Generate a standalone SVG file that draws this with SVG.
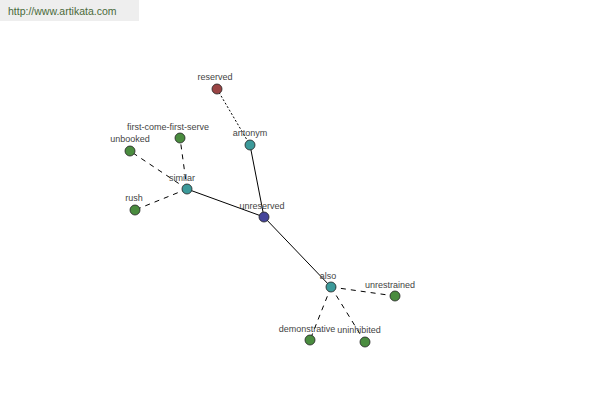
<svg xmlns="http://www.w3.org/2000/svg" width="600" height="400" viewBox="0 0 600 400">
<style>
.bg{fill:#ffffff}
.hdr{fill:#eeeeee}
.hdrt{font-family:"Liberation Sans",Arial,sans-serif;font-size:10.5px;fill:#4a6a3a}
.lbl{font-family:"Liberation Sans",Arial,sans-serif;font-size:9px;fill:#444444;text-anchor:middle}
.n{stroke:#222;stroke-width:0.8}
.g{fill:#4a8c3f}
.t{fill:#3c9a9a}
.b{fill:#44449a}
.r{fill:#9a4444}
.solid{stroke:#000;stroke-width:1;fill:none}
.dash{stroke:#000;stroke-width:1;fill:none;stroke-dasharray:5,5}
.dot{stroke:#000;stroke-width:1;fill:none;stroke-dasharray:2,2}
</style>
<rect class="bg" x="0" y="0" width="600" height="400"/>
<rect class="hdr" x="0" y="0" width="139" height="21"/>
<text class="hdrt" x="8" y="15">http://www.artikata.com</text>
<g id="connectors">
<line class="dot" x1="217" y1="89" x2="250" y2="145"/>
<line class="solid" x1="250" y1="145" x2="264" y2="217"/>
<line class="solid" x1="187" y1="189" x2="264" y2="217"/>
<line class="solid" x1="264" y1="217" x2="331" y2="287"/>
<line class="dash" x1="187" y1="189" x2="130" y2="151"/>
<line class="dash" x1="187" y1="189" x2="180" y2="138"/>
<line class="dash" x1="187" y1="189" x2="135" y2="210"/>
<line class="dash" x1="331" y1="287" x2="395" y2="296"/>
<line class="dash" x1="331" y1="287" x2="310" y2="340"/>
<line class="dash" x1="331" y1="287" x2="365" y2="342"/>
</g>
<g id="reserved"><circle class="n r" cx="217" cy="89" r="5"/><text class="lbl" x="215" y="80">reserved</text></g>
<g id="anonym"><circle class="n t" cx="250" cy="145" r="5"/><text class="lbl" x="250" y="136">antonym</text></g>
<g id="first-come-first-serve"><circle class="n g" cx="180" cy="138" r="5"/><text class="lbl" x="168" y="130">first-come-first-serve</text></g>
<g id="unbooked"><circle class="n g" cx="130" cy="151" r="5"/><text class="lbl" x="130" y="142">unbooked</text></g>
<g id="similar"><circle class="n t" cx="187" cy="189" r="5"/><text class="lbl" x="182" y="181">similar</text></g>
<g id="rush"><circle class="n g" cx="135" cy="210" r="5"/><text class="lbl" x="134" y="201">rush</text></g>
<g id="unreserved"><circle class="n b" cx="264" cy="217" r="5"/><text class="lbl" x="262" y="209">unreserved</text></g>
<g id="also"><circle class="n t" cx="331" cy="287" r="5"/><text class="lbl" x="328" y="279">also</text></g>
<g id="unrestrained"><circle class="n g" cx="395" cy="296" r="5"/><text class="lbl" x="390" y="288">unrestrained</text></g>
<g id="demonstrative"><circle class="n g" cx="310" cy="340" r="5"/><text class="lbl" x="307" y="332">demonstrative</text></g>
<g id="uninhibited"><circle class="n g" cx="365" cy="342" r="5"/><text class="lbl" x="359" y="333">uninhibited</text></g>
</svg>
